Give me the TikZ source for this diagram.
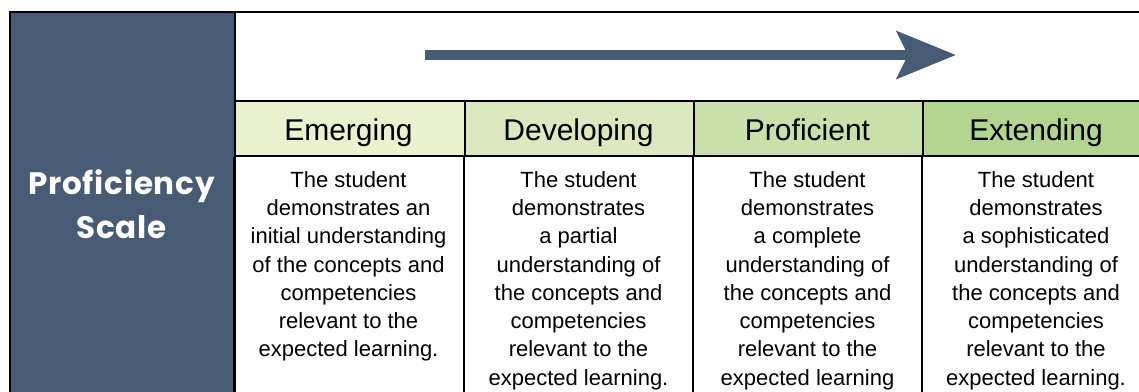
\documentclass[tikz,border=0pt]{standalone}
\usepackage{fontspec}
\setmainfont{Liberation Sans}
\newfontfamily\gothicfont[LetterSpace=2.4]{Poppins}
\usetikzlibrary{arrows.meta}
\definecolor{slate}{HTML}{475B74}
\definecolor{hEm}{HTML}{EAF1CF}
\definecolor{hDe}{HTML}{DCE9C0}
\definecolor{hPr}{HTML}{C9E0AB}
\definecolor{hEx}{HTML}{B2D590}
\tikzset{
  grid/.style={draw=black, line width=1.6pt},
  headcell/.style={draw=black, line width=1.6pt, minimum height=55pt, inner sep=0pt, anchor=north west},
  headtext/.style={anchor=base, inner sep=0pt, font=\fontsize{30}{36}\selectfont},
  bodytext/.style={align=center, anchor=north, inner sep=0pt, font=\fontsize{22}{28.3}\selectfont},
  titletext/.style={align=center, text=white, inner sep=0pt, font=\gothicfont\bfseries\fontsize{31}{44}\selectfont},
}
\begin{document}
\begin{tikzpicture}[x=1pt,y=-1pt]
\useasboundingbox (0,0) rectangle (1139,391);
\clip (0,0) rectangle (1139,391);
% left dark panel
\node[fill=slate, draw=black, line width=1.6pt, minimum width=225pt, minimum height=400pt, anchor=north west, inner sep=0pt] (panel) at (9,11) {};
\node[titletext] (title) at (121.5,204) {Proficiency\\Scale};
% top band
\node[draw=black, line width=1.6pt, minimum width=930pt, minimum height=89pt, anchor=north west, inner sep=0pt] (band) at (234,11) {};
% arrow
\coordinate (as) at (425,55);
\coordinate (ae) at (956,55);
\draw[slate, line width=10pt, -{Stealth[length=59pt, width=47pt, inset=11pt]}] (as) -- (ae);
% header cells
\node[headcell, fill=hEm, minimum width=230pt] (h1) at (234,100) {};
\node[headcell, fill=hDe, minimum width=229pt] (h2) at (464,100) {};
\node[headcell, fill=hPr, minimum width=229pt] (h3) at (693,100) {};
\node[headcell, fill=hEx, minimum width=240pt] (h4) at (922,100) {};
\node[headtext] (t1) at (348.5,140) {Emerging};
\node[headtext] (t2) at (578.5,140) {Developing};
\node[headtext] (t3) at (807.5,140) {Proficient};
\node[headtext] (t4) at (1036,140) {Extending};
% body column lines
\draw[grid] (h1.south west) -- ++(0,260);
\draw[grid] (h2.south west) -- ++(0,260);
\draw[grid] (h3.south west) -- ++(0,260);
\draw[grid] (h4.south west) -- ++(0,260);
% body texts
\node[bodytext] (b1) at (348.5,171) {The student\\demonstrates an\\initial understanding\\of the concepts and\\competencies\\relevant to the\\expected learning.};
\node[bodytext] (b2) at (578.5,171) {The student\\demonstrates\\a partial\\understanding of\\the concepts and\\competencies\\relevant to the\\expected learning.};
\node[bodytext] (b3) at (807.5,171) {The student\\demonstrates\\a complete\\understanding of\\the concepts and\\competencies\\relevant to the\\expected learning};
\node[bodytext] (b4) at (1036,171) {The student\\demonstrates\\a sophisticated\\understanding of\\the concepts and\\competencies\\relevant to the\\expected learning.};
\end{tikzpicture}
\end{document}
